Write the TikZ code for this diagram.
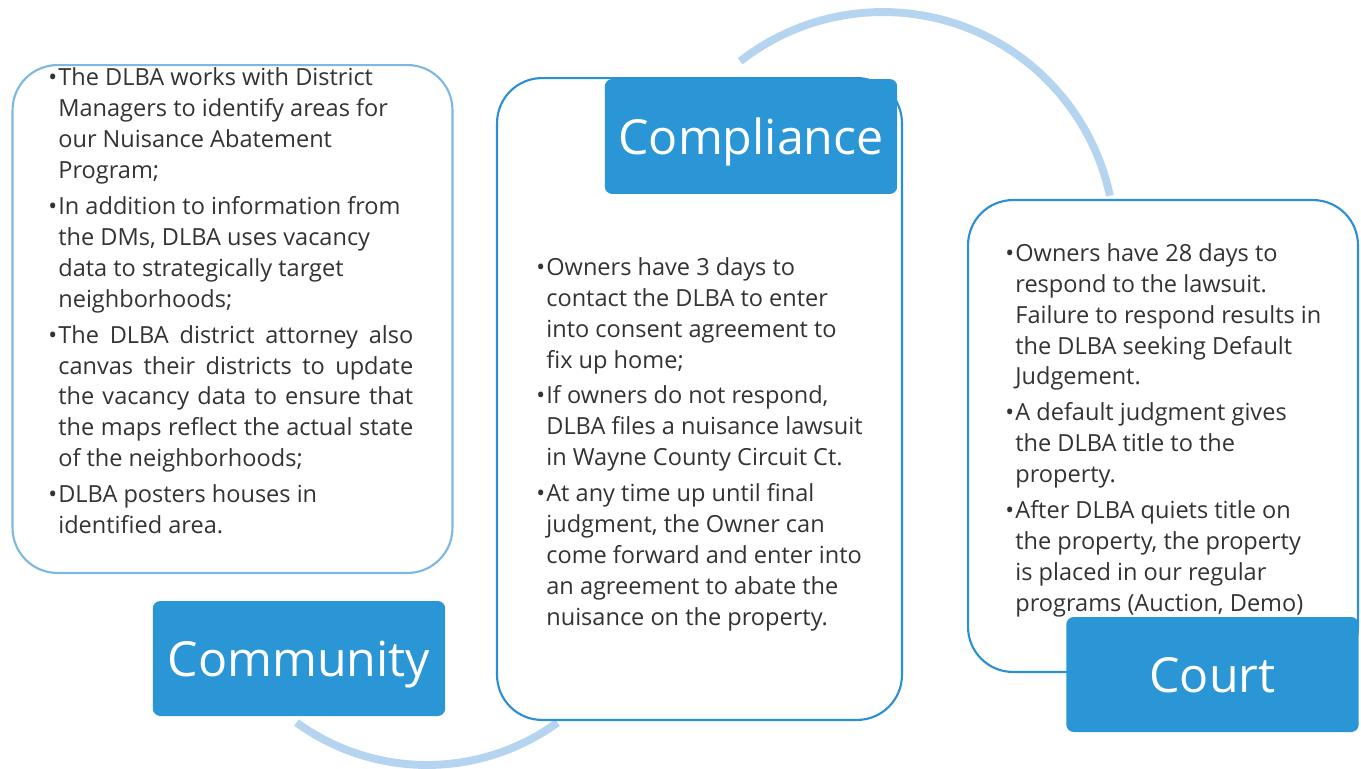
\documentclass[tikz,border=0pt]{standalone}
\usepackage{fontspec}
\setmainfont{Open Sans}
\usepackage{xcolor}
\definecolor{dlbablue}{HTML}{2A96D6}
\definecolor{dlbaedge}{HTML}{2B8FD5}
\definecolor{dlbalight}{HTML}{7DB7E4}
\definecolor{dlbaarc}{HTML}{B5D4EF}
\newcommand{\bult}{\makebox[0.2cm][l]{\textbullet}}
\newcommand{\hind}{\hspace*{0.2cm}}
\newcommand{\jline}[1]{\makebox[7.1cm][s]{#1}}
\tikzset{
textboxv1/.style={rectangle, draw=dlbaedge, fill=white, line width=1.2pt, rounded corners=0.9cm, inner sep=0pt},
labelboxv1/.style={rectangle, draw=none, fill=dlbablue, rounded corners=0.15cm, inner sep=0pt, minimum width=5.85cm, minimum height=2.3cm, text depth=0pt, text=white, font=\fontsize{27.5}{33}\selectfont},
bodytextv1/.style={anchor=north west, inner sep=0pt, align=left, text=black!80, font=\fontsize{13.4}{17.6}\selectfont},
cyclearc/.style={draw=dlbaarc, line width=4.5pt},
}
\begin{document}
\begin{tikzpicture}[x=0.02cm, y=-0.02cm]
        \useasboundingbox (0,0) rectangle (1361,768);
        % arcs of the cycle, behind the boxes
        \coordinate (c1) at (883,244);
        \coordinate (c2) at (427,543);
        \draw[cyclearc] (c1) ++(128:4.64cm) arc[start angle=128, end angle=12, radius=4.64cm];
        \draw[cyclearc] (c2) ++(234:4.44cm) arc[start angle=234, end angle=306, radius=4.44cm];

        \node[textboxv1, draw=dlbalight, minimum width=8.8cm, minimum height=10.16cm] at (232.5,319) (box1) {};
        \node[textboxv1, minimum width=8.1cm, minimum height=12.84cm] at (699.5,399) (box2) {};
        \node[textboxv1, minimum width=7.8cm, minimum height=9.44cm] at (1163,436) (box3) {};

        \node[labelboxv1] at (299,658.5) (lab1) {Community};
        \node[labelboxv1] at (751,136.5) (lab2) {Compliance};
        \node[labelboxv1] at (1212.5,674.5) (lab3) {Court};

        \node[bodytextv1] at (48,67.5) (txt1) {\bult The DLBA works with District\\
        \hind Managers to identify areas for\\
        \hind our Nuisance Abatement\\
        \hind Program;\\[0.1cm]
        \bult In addition to information from\\
        \hind the DMs, DLBA uses vacancy\\
        \hind data to strategically target\\
        \hind neighborhoods;\\[0.1cm]
        \bult\jline{The DLBA district attorney also}\\
        \hind\jline{canvas their districts to update}\\
        \hind\jline{the vacancy data to ensure that}\\
        \hind\jline{the maps reflect the actual state}\\
        \hind of the neighborhoods;\\[0.1cm]
        \bult DLBA posters houses in\\
        \hind identified area.};

        \node[bodytextv1] at (536,257) (txt2) {\bult Owners have 3 days to\\
        \hind contact the DLBA to enter\\
        \hind into consent agreement to\\
        \hind fix up home;\\[0.1cm]
        \bult If owners do not respond,\\
        \hind DLBA files a nuisance lawsuit\\
        \hind in Wayne County Circuit Ct.\\[0.1cm]
        \bult At any time up until final\\
        \hind judgment, the Owner can\\
        \hind come forward and enter into\\
        \hind an agreement to abate the\\
        \hind nuisance on the property.};

        \node[bodytextv1] at (1005,243) (txt3) {\bult Owners have 28 days to\\
        \hind respond to the lawsuit.\\
        \hind Failure to respond results in\\
        \hind the DLBA seeking Default\\
        \hind Judgement.\\[0.1cm]
        \bult A default judgment gives\\
        \hind the DLBA title to the\\
        \hind property.\\[0.1cm]
        \bult After DLBA quiets title on\\
        \hind the property, the property\\
        \hind is placed in our regular\\
        \hind programs (Auction, Demo)};
\end{tikzpicture}
\end{document}
